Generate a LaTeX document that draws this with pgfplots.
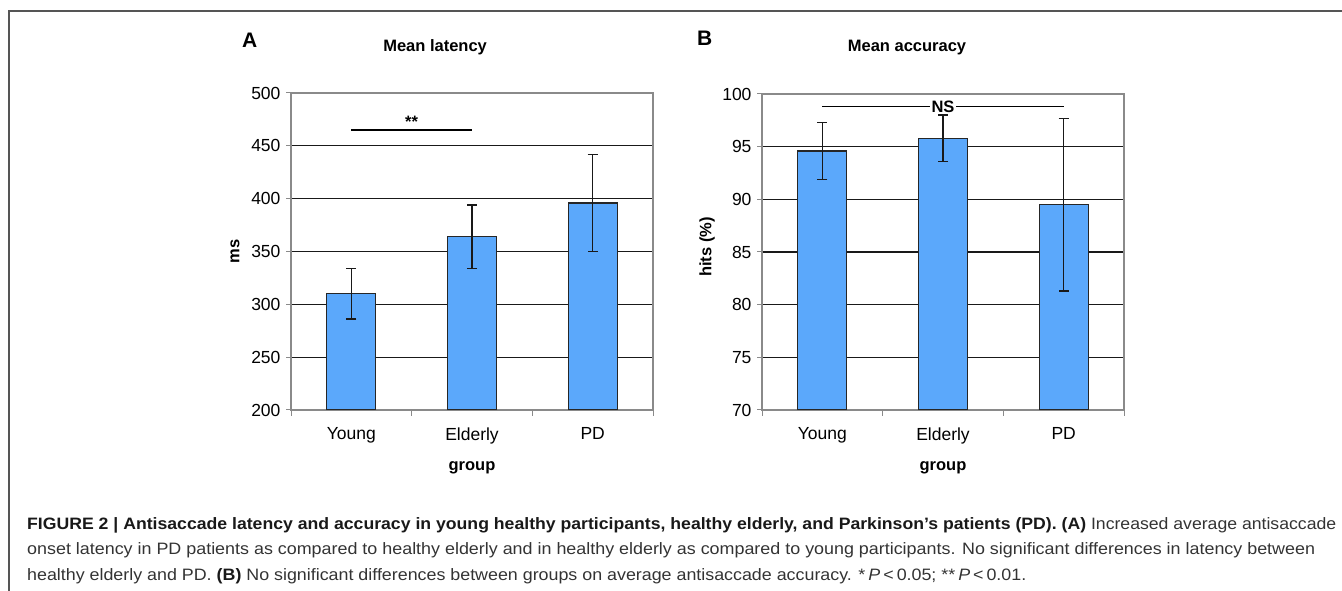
\documentclass[border=0pt]{standalone}
\usepackage{pgfplots}
\pgfplotsset{compat=1.18}
\usepackage{graphicx}
\usepackage{fontspec}
\setmainfont{Liberation Sans}
\definecolor{barblue}{HTML}{5BA8FB}
\definecolor{axgray}{HTML}{8A8A8A}
\definecolor{capgray}{HTML}{333333}
\definecolor{framegray}{HTML}{555555}
\newcommand{\fs}{\fontsize{16.5}{19}\selectfont}
\newcommand{\ft}{\fontsize{17.5}{20}\selectfont}
\pgfplotsset{
  mybar/.style={
    scale only axis, width=362pt,
    xmin=-0.5, xmax=2.5,
    xtick={0,1,2}, xticklabels={Young,Elderly,PD},
    minor xtick={-0.5,0.5,1.5,2.5},
    xtick pos=bottom, ytick pos=left,
    major x tick style={draw=none},
    minor x tick style={axgray, line width=1pt},
    ytick style={axgray, line width=1pt},
    tick align=outside, major tick length=5pt, minor tick length=6pt,
    axis line style={axgray, line width=1.2pt},
    ymajorgrids, grid style={black!90, line width=1.2pt},
    tick label style={font=\ft, black},
    xticklabel style={yshift=-9pt},
    yticklabel style={xshift=-2pt},
    /pgf/number format/assume math mode=true,
    label style={font=\fs\bfseries},
    title style={font=\fs\bfseries},
    ybar, bar width=49pt,
  },
  myerr/.style={
    fill=barblue, draw=black!85, line width=1.3pt,
    error bars/y dir=both, error bars/y explicit,
    error bars/error bar style={black!90, line width=1.3pt},
    error bars/error mark options={black!90, line width=1.3pt, mark size=5pt, rotate=90},
  }
}
\begin{document}
\begin{tikzpicture}[x=1pt,y=1pt]
\useasboundingbox (0,0) rectangle (1342,591);
% frame
\draw[framegray, line width=1.5pt] (9,0) -- (9,580) -- (1342,580);
% panel letters
\node[anchor=base west, font=\fontsize{21}{24}\selectfont\bfseries, inner sep=0] at (242,543) {A};
\node[anchor=base west, font=\fontsize{21}{24}\selectfont\bfseries, inner sep=0] at (697,545) {B};

\begin{axis}[mybar,
  at={(291pt,181pt)}, anchor=south west, height=317pt,
  ymin=200, ymax=500, ytick={200,250,...,500},
  title={Mean latency},
  title style={at={(axis description cs:0.398,1.111)}, anchor=base, yshift=0pt},
  xlabel={group},
  xlabel style={at={(axis description cs:0.5,-0.183)}, anchor=center},
  ylabel={ms},
  ylabel style={at={(axis description cs:-0.155,0.5)}, anchor=center},
]
\addplot[myerr] coordinates {
  (0,310) +- (0,24)
  (1,364) +- (0,30)
  (2,396) +- (0,46)
};
\addplot[draw=black, line width=1.5pt, sharp plot, forget plot] coordinates {(0,465) (1,465)};
\node[anchor=base, font=\fs\bfseries, inner sep=0] at (axis cs:0.5,467) {**};
\end{axis}

\begin{axis}[mybar,
  at={(762pt,181pt)}, anchor=south west, height=316pt,
  ymin=70, ymax=100, ytick={70,75,...,100},
  title={Mean accuracy},
  title style={at={(axis description cs:0.4006,1.117)}, anchor=base, yshift=0pt},
  xlabel={group},
  xlabel style={at={(axis description cs:0.5,-0.183)}, anchor=center},
  ylabel={hits (\%)},
  ylabel style={at={(axis description cs:-0.152,0.516)}, anchor=center},
]
\addplot[myerr] coordinates {
  (0,94.6) +- (0,2.7)
  (1,95.8) +- (0,2.2)
  (2,89.5) +- (0,8.2)
};
\addplot[draw=black, line width=1.5pt, sharp plot, forget plot] coordinates {(0,98.8) (2,98.8)};
\node[font=\fs\bfseries, fill=white, inner xsep=1.5pt, inner ysep=1pt] at (axis cs:1,98.8) {NS};
\end{axis}

% caption
\node[anchor=base west, inner sep=0, capgray] at (27,61) {\resizebox{1309pt}{\height}{\fs\textbf{\color{black!90}FIGURE 2 | Antisaccade latency and accuracy in young healthy participants, healthy elderly, and Parkinson’s patients (PD). (A)} Increased average antisaccade}};
\node[anchor=base west, inner sep=0, capgray] at (27,36) {\resizebox{1288pt}{\height}{\fs onset latency in PD patients as compared to healthy elderly and in healthy elderly as compared to young participants. No significant differences in latency between}};
\node[anchor=base west, inner sep=0, capgray] at (27,10) {\resizebox{999pt}{\height}{\fs healthy elderly and PD. \textbf{\color{black!90}(B)} No significant differences between groups on average antisaccade accuracy. *\,\textit{P}\,<\,0.05; **\,\textit{P}\,<\,0.01.}};
\end{tikzpicture}
\end{document}
